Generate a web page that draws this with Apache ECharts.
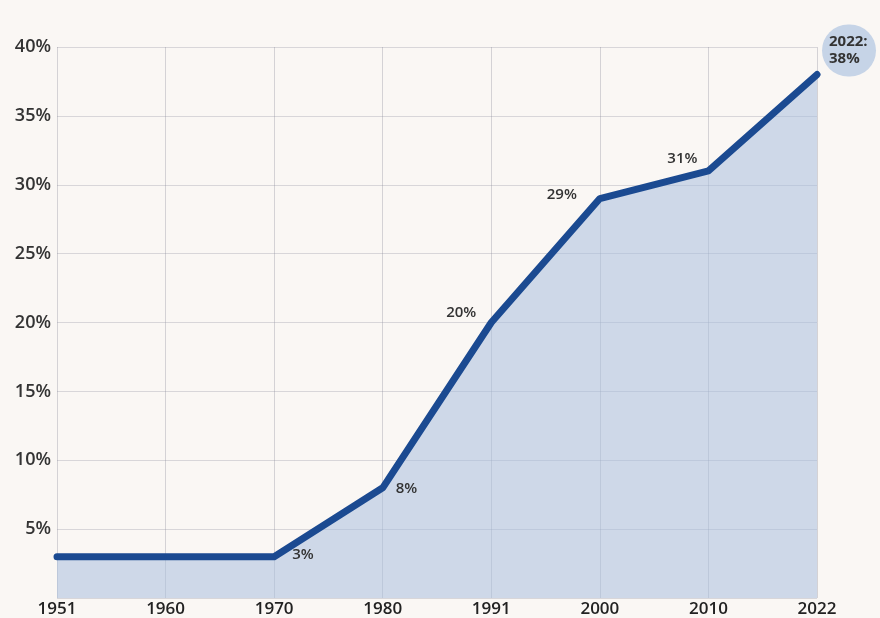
<!DOCTYPE html>
<html>
<head>
<meta charset="utf-8">
<script src="https://cdn.jsdelivr.net/npm/echarts@6/dist/echarts.min.js"></script>
<style>
html,body{margin:0;padding:0;background:#faf7f4;}
#chart{width:880px;height:618px;}
</style>
</head>
<body>
<div id="chart"></div>
<script>
const years = ['1951','1960','1970','1980','1991','2000','2010','2022'];
const shares = [3, 3, 3, 8, 20, 29, 31, 38];
const yTicks = [0, 5, 10, 15, 20, 25, 30, 35, 40];

const font = '"Open Sans", "Noto Sans", sans-serif';
const labelBase = {show: true, color: '#333', fontSize: 15, fontWeight: 600, fontFamily: font, formatter: p => p.value + '%'};
const labelCfg = [
  null,
  null,
  {position: 'right', offset: [12, -2]},
  {position: 'right', offset: [7, 1]},
  {position: 'left', offset: [-9, -10]},
  {position: 'left', offset: [-17, -4]},
  {position: 'left', offset: [-5, -12]},
  {position: 'right', offset: [-1, -24], formatter: p => years[p.dataIndex] + ':\n' + p.value + '%',
   backgroundColor: '#c6d4e7', width: 40, height: 36, padding: [8, 7, 8, 7], borderRadius: 27, lineHeight: 17, align: 'left', fontSize: 15, fontWeight: 700}
];

const data = shares.map((v, i) => {
  const c = labelCfg[i];
  return {value: v, label: c ? Object.assign({}, labelBase, c) : {show: false}};
});

const chart = echarts.init(document.getElementById('chart'));
chart.setOption({
  backgroundColor: '#faf7f4',
  animation: false,
  grid: {left: 57, right: 63, top: 47, bottom: 19, containLabel: false},
  xAxis: {
    type: 'category',
    data: years,
    boundaryGap: false,
    axisLine: {show: false},
    axisTick: {show: false},
    axisLabel: {color: '#222', fontSize: 17, fontWeight: 600, fontFamily: font, margin: 3},
    splitLine: {show: true, lineStyle: {color: 'rgba(140,140,155,0.35)', width: 1}}
  },
  yAxis: {
    type: 'value',
    min: yTicks[0],
    max: yTicks[yTicks.length - 1],
    interval: 5,
    axisLine: {show: false},
    axisTick: {show: false},
    axisLabel: {color: '#333', fontSize: 18, fontWeight: 600, fontFamily: font, margin: 6,
      formatter: v => v === 0 ? '' : v + '%'},
    splitLine: {show: true, lineStyle: {color: 'rgba(140,140,155,0.3)', width: 1}}
  },
  series: [{
    type: 'line',
    data: data,
    symbol: 'circle',
    symbolSize: 2,
    showSymbol: true,
    itemStyle: {color: '#1b4a91'},
    lineStyle: {color: '#1b4a91', width: 7, cap: 'round', join: 'round'},
    areaStyle: {color: '#a9c0de', opacity: 0.55},
    z: 3
  }]
});
</script>
</body>
</html>
